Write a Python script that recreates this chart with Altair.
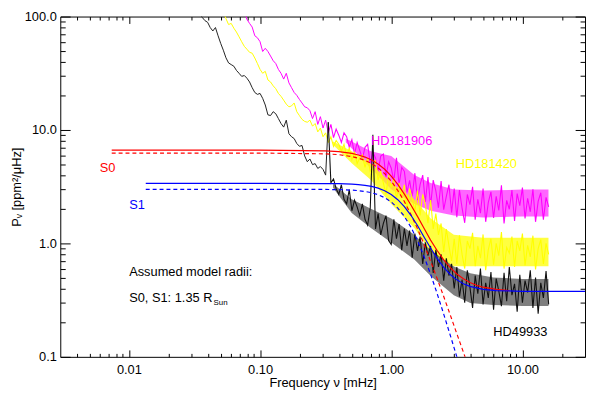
import altair as alt
import pandas as pd

# ---------------- data ----------------
freq = [0.03162, 0.03311, 0.03467, 0.03631, 0.03802, 0.03981, 0.04169, 0.04365, 0.04571, 0.04786,
        0.05012, 0.05248, 0.05495, 0.05754, 0.06026, 0.06310, 0.06607, 0.06918, 0.07244, 0.07586,
        0.07943, 0.08318, 0.08710, 0.09120, 0.09550,
        0.1000, 0.1047, 0.1096, 0.1148, 0.1202, 0.1259, 0.1318, 0.1380, 0.1445, 0.1514,
        0.1585, 0.1660, 0.1738, 0.1820, 0.1905, 0.1995, 0.2089, 0.2188, 0.2291, 0.2399,
        0.2512, 0.2630, 0.2754, 0.2884, 0.3020, 0.3162, 0.3311, 0.3467, 0.3631, 0.3802,
        0.3981, 0.4169, 0.4365, 0.4571, 0.4786, 0.5012, 0.5248, 0.5495, 0.5754, 0.6026,
        0.6310, 0.6607, 0.6918, 0.7244, 0.7586, 0.7943, 0.8318, 0.8710, 0.9120, 0.9550,
        1.000, 1.047, 1.096, 1.148, 1.202, 1.259, 1.318, 1.380, 1.445, 1.514,
        1.585, 1.660, 1.738, 1.820, 1.905, 1.995, 2.089, 2.188, 2.291, 2.399,
        2.512, 2.630, 2.754, 2.884, 3.020, 3.162, 3.311, 3.467, 3.631, 3.802,
        3.981, 4.169, 4.365, 4.571, 4.786, 5.012, 5.248, 5.495, 5.754, 6.026,
        6.310, 6.607, 6.918, 7.244, 7.586, 7.943, 8.318, 8.710, 9.120, 9.550,
        10.00, 10.47, 10.96, 11.48, 12.02, 12.59, 13.18, 13.80, 14.45, 15.14, 15.85]

hd49933 = [134, 117, 106, 98, 92, 89, 80, 74.6, 80, 67.7,
           58, 50.5, 43.3, 39, 37.7, 36.5, 33.5, 31.6, 29.7, 30.2,
           28.6, 26.5, 23.6, 21.4, 20.6, 21.0, 19.0, 16.6, 13.6, 13.4,
           14.5, 13.9, 12.6, 11.4, 10.6, 12.2, 9.26, 8.72, 8.4, 7.6,
           7.18, 7.3, 5.90, 5.25, 5.55, 4.95, 5.05, 4.58, 4.76, 4.49,
           4.00, 11.7, 3.42, 3.70, 3.04, 2.7, 3.29, 2.45, 2.23, 2.98,
           1.94, 2.41, 2.1, 1.76, 2.23, 1.63, 1.45, 2.06, 9.07, 1.34,
           1.83, 1.19, 1.5, 1.76, 1.06, 0.98, 1.63, 1.10, 1.48, 0.87,
           1.35, 0.95, 1.30, 0.75, 1.22, 0.86, 1.15, 0.66, 1.02, 0.78,
           0.95, 0.55, 0.88, 0.62, 0.80, 0.47, 0.74, 0.52, 0.66, 0.40,
           0.62, 0.34, 0.48, 0.30, 0.58, 0.41, 0.27, 0.52, 0.36, 0.60,
           0.29, 0.45, 0.33, 0.56, 0.26, 0.49, 0.38, 0.28, 0.55, 0.31,
           0.62, 0.35, 0.44, 0.25, 0.53, 0.30, 0.47, 0.37, 0.58, 0.27,
           0.50, 0.24, 0.45, 0.33, 0.57, 0.29]

hd181906 = [600, 560, 520, 480, 450, 420, 390, 360, 330, 300,
            280, 260, 240, 220, 200, 180, 160, 140, 125, 110,
            94.5, 87, 80.8, 67.7, 65, 60, 49.2, 52.5, 49.2, 44.9,
            40.8, 38.5, 34.2, 31.6, 28.1, 31.6, 26.0, 23.6, 21.4, 20.2,
            18.6, 17.3, 16.0, 15.7, 14.8, 12.6, 14.5, 11.2, 13.1, 10.4,
            12.2, 9.44, 11.2, 8.55, 10.2, 9.0, 7.76, 9.44, 8.72, 7.04,
            8.23, 6.14, 7.76, 6.6, 5.56, 7.04, 7.47, 5.05, 6.38, 5.67,
            4.32, 5.90, 6.14, 3.84, 5.25, 4.6, 3.55, 5.67, 3.29, 4.68,
            4.32, 2.81, 3.6, 2.60, 4.16, 2.41, 3.3, 4.00, 2.32, 3.84,
            2.14, 3.62, 2.9, 2.06, 3.55, 1.98, 2.6, 3.29, 1.87, 3.04,
            1.70, 2.95, 2.05, 1.52, 2.70, 2.20, 3.15, 1.62, 2.45, 1.85,
            3.05, 1.55, 2.30, 2.85, 1.68, 2.60, 1.95, 3.25, 1.50, 2.40,
            2.00, 2.95, 1.58, 2.75, 2.15, 3.10, 1.66, 2.50, 1.90, 3.00,
            1.55, 2.35, 2.80, 1.62, 2.55, 2.10]

hd181420 = [241, 223, 206, 194, 180, 166, 154, 145, 134, 125,
            117, 110, 96, 85, 87, 79, 73, 66.3, 60, 54.6,
            51.5, 48.4, 47.5, 43.1, 38.5, 34.2, 31.6, 32.9, 27.6, 26.5,
            24.5, 23.1, 21.0, 19.8, 18.3, 16.9, 16.0, 16.3, 17.3, 14.5,
            13.4, 12.4, 11.9, 11.7, 12.2, 10.8, 11.4, 9.62, 10.4, 8.72,
            9.44, 7.76, 8.72, 7.18, 8.07, 7.5, 6.51, 7.47, 5.90, 6.90,
            5.46, 6.38, 5.05, 5.7, 6.02, 4.68, 5.67, 4.32, 4.9, 5.35,
            3.62, 4.32, 3.4, 2.71, 4.00, 3.1, 3.76, 2.45, 3.42, 2.6,
            3.29, 2.02, 3.04, 2.5, 1.90, 2.93, 1.76, 2.71, 2.2, 1.51,
            2.41, 1.34, 1.83, 1.19, 1.5, 0.84, 1.34, 0.95, 0.70, 1.10,
            0.66, 1.18, 0.80, 0.60, 1.05, 0.90, 1.24, 0.63, 0.95, 0.74,
            1.20, 0.58, 0.88, 1.10, 0.65, 1.00, 0.78, 1.26, 0.60, 0.92,
            0.82, 1.15, 0.62, 1.05, 0.86, 1.22, 0.64, 0.96, 0.76, 1.17,
            0.59, 0.90, 1.08, 0.66, 1.00, 0.80]

# dense-noise core of each spectrum (upper and lower edge of the filled-looking band)
blk_band_f = [0.36, 0.5, 0.7, 1.0, 1.5, 2.0, 3.0, 4.0, 6.0, 10.0, 15.8]
blk_band_hi = [3.35, 2.45, 2.02, 1.66, 1.19, 0.87, 0.626, 0.546, 0.50, 0.486, 0.486]
blk_band_lo = [3.1, 1.85, 1.37, 1.02, 0.72, 0.515, 0.349, 0.298, 0.287, 0.281, 0.281]
mag_band_f = [0.45, 0.7, 1.0, 1.5, 2.0, 3.0, 5.0, 10.0, 15.8]
mag_band_hi = [8.4, 6.5, 5.9, 4.0, 3.4, 2.98, 2.93, 2.98, 2.98]
mag_band_lo = [7.8, 4.6, 3.0, 2.23, 1.94, 1.76, 1.69, 1.73, 1.73]
yel_band_f = [0.36, 0.5, 0.7, 1.0, 1.5, 2.0, 3.0, 5.0, 10.0, 15.8]
yel_band_hi = [7.9, 6.5, 5.05, 3.4, 2.45, 1.66, 1.19, 1.12, 1.12, 1.12]
yel_band_lo = [7.4, 5.1, 3.62, 2.23, 1.37, 0.84, 0.63, 0.63, 0.63, 0.63]

# model curves (S0 red, S1 blue); solid = total, dashed = granulation only
s0_solid_f = [0.0074, 0.1, 0.316, 0.398, 0.501, 0.562, 0.631, 0.708, 0.794, 0.891, 1.0, 1.122, 1.259,
              1.413, 1.585, 1.778, 1.995, 2.239, 2.512, 2.818, 3.162, 3.548, 3.981, 4.467, 5.012,
              6.310, 7.943]
s0_solid_p = [6.64, 6.64, 6.54, 6.44, 6.21, 6.02, 5.77, 5.44, 5.01, 4.50, 3.92, 3.31, 2.72,
              2.18, 1.73, 1.36, 1.07, 0.866, 0.717, 0.611, 0.537, 0.487, 0.452, 0.428, 0.411,
              0.393, 0.384]
s0_dash_f = [0.0074, 0.1, 0.316, 0.398, 0.501, 0.562, 0.631, 0.708, 0.794, 0.891, 1.0, 1.122, 1.259,
             1.413, 1.585, 1.778, 1.995, 2.239, 2.512, 2.818, 3.162, 3.548, 3.981]
s0_dash_p = [6.26, 6.26, 6.16, 6.06, 5.83, 5.64, 5.39, 5.06, 4.63, 4.12, 3.54, 2.93, 2.34,
             1.80, 1.35, 0.978, 0.697, 0.489, 0.340, 0.234, 0.160, 0.110, 0.0745]
s1_solid_f = [0.01345, 0.1, 0.316, 0.398, 0.501, 0.562, 0.631, 0.708, 0.794, 0.891, 1.0, 1.122, 1.259,
              1.413, 1.585, 1.778, 1.995, 2.239, 2.512, 2.818, 3.162, 3.548, 3.981, 5.012, 6.310,
              10.0, 30.0]
s1_solid_p = [3.377, 3.377, 3.37, 3.36, 3.33, 3.30, 3.25, 3.18, 3.07, 2.91, 2.70, 2.43, 2.11,
              1.77, 1.44, 1.14, 0.912, 0.738, 0.615, 0.532, 0.477, 0.441, 0.418, 0.393, 0.384,
              0.378, 0.377]
s1_dash_f = [0.01345, 0.1, 0.316, 0.398, 0.501, 0.562, 0.631, 0.708, 0.794, 0.891, 1.0, 1.122, 1.259,
             1.413, 1.585, 1.778, 1.995, 2.239, 2.512, 2.818, 3.162, 3.548]
s1_dash_p = [3.0, 3.0, 2.99, 2.98, 2.95, 2.92, 2.87, 2.80, 2.69, 2.53, 2.32, 2.05, 1.73,
             1.39, 1.06, 0.767, 0.535, 0.361, 0.238, 0.155, 0.100, 0.0637]

x_major = [0.01, 0.1, 1, 10]
x_minor = [0.004, 0.005, 0.006, 0.007, 0.008, 0.009,
           0.02, 0.03, 0.04, 0.05, 0.06, 0.07, 0.08, 0.09,
           0.2, 0.3, 0.4, 0.5, 0.6, 0.7, 0.8, 0.9,
           2, 3, 4, 5, 6, 7, 8, 9, 20]
y_major = [0.1, 1, 10, 100]
y_minor = [0.2, 0.3, 0.4, 0.5, 0.6, 0.7, 0.8, 0.9,
           2, 3, 4, 5, 6, 7, 8, 9,
           20, 30, 40, 50, 60, 70, 80, 90]

labels_text = ["S0", "S1", "HD181906", "HD181420", "HD49933",
               "Assumed model radii:", "S0, S1: 1.35 R"]
labels_f = [0.0060, 0.01005, 0.701, 3.1, 6.0, 0.01005, 0.01005]
labels_p = [4.58, 2.18, 7.91, 5.05, 0.166, 0.557, 0.329]
labels_col = ["#ff0000", "#0000ff", "#ff00ff", "#ffff00", "#000000", "#000000", "#000000"]
sub_text = ["Sun"]
sub_f = [0.0442]
sub_p = [0.296]

# ---------------- chart ----------------
W, H = 532, 345
FONT = "Liberation Sans"
SPLIT = 0.3311
xs = alt.Scale(type="log", domain=[0.003, 30], nice=False)
ys = alt.Scale(type="log", domain=[0.1, 100], nice=False)

x_ticks = x_major + x_minor
y_ticks = y_major + y_minor
x_tsize = {"condition": {"test": "indexof([0.01,0.1,1,10], datum.value) >= 0", "value": 7}, "value": 3.5}
y_tsize = {"condition": {"test": "indexof([0.1,1,10,100], datum.value) >= 0", "value": 10}, "value": 5}

spec = pd.DataFrame({"f": freq, "b": hd49933, "y": hd181420, "m": hd181906})

axA_x = alt.Axis(orient="bottom", values=x_major, format=".2f", ticks=False, domain=False, grid=False,
                 labelPadding=7, labelFlush=False, labelFont=FONT, labelFontSize=13, labelColor="black",
                 title="Frequency ν [mHz]", titleFont=FONT, titleFontSize=13, titleFontWeight="normal",
                 titleColor="black", titlePadding=0)
axA_y = alt.Axis(orient="left", values=y_major, format=".1f", ticks=False, domain=False, grid=False,
                 labelPadding=4, labelFlush=False, labelFont=FONT, labelFontSize=13, labelColor="black",
                 title="Pᵥ [ppm²/μHz]", titleFont=FONT, titleFontSize=13, titleFontWeight="normal",
                 titleColor="black", titlePadding=1)
axB_x = alt.Axis(orient="top", offset=-H, values=x_ticks, labels=False, domain=False, grid=False,
                 tickColor="black", tickSize=x_tsize, title=None)
axB_y = alt.Axis(orient="right", offset=-W, values=y_ticks, labels=False, domain=False, grid=False,
                 tickColor="black", tickSize=y_tsize, title=None)
axC_x = alt.Axis(orient="bottom", offset=-H, values=x_ticks, labels=False, domain=False, grid=False,
                 tickColor="black", tickSize=x_tsize, title=None)
axC_y = alt.Axis(orient="left", offset=-W, values=y_ticks, labels=False, domain=False, grid=False,
                 tickColor="black", tickSize=y_tsize, title=None)


def spectrum(field, color, xaxis, yaxis, low):
    test = f"datum.f <= {SPLIT}" if low else f"datum.f >= {SPLIT}"
    return alt.Chart(spec).transform_filter(test).mark_line(
        color=color, strokeWidth=1 if low else 1.1, clip=True
    ).encode(
        x=alt.X("f:Q", scale=xs, axis=xaxis), y=alt.Y(f"{field}:Q", scale=ys, axis=yaxis))


def band(fs, lo, hi, color, opacity):
    df = pd.DataFrame({"f": fs, "lo": lo, "hi": hi})
    return alt.Chart(df).mark_area(color=color, opacity=opacity, clip=True).encode(
        x=alt.X("f:Q", scale=xs, axis=None), y=alt.Y("lo:Q", scale=ys, axis=None), y2="hi:Q")


mag_band = band(mag_band_f, mag_band_lo, mag_band_hi, "#ff00ff", 0.6)
yel_band = band(yel_band_f, yel_band_lo, yel_band_hi, "#ffff00", 0.75)
blk_band = band(blk_band_f, blk_band_lo, blk_band_hi, "#000000", 0.5)
mag_lo = spectrum("m", "#ff00ff", axA_x, axA_y, True)
mag_hi = spectrum("m", "#ff00ff", None, None, False)
yel_lo = spectrum("y", "#ffff00", axB_x, axB_y, True)
yel_hi = spectrum("y", "#ffff00", None, None, False)
blk_lo = spectrum("b", "#222222", axC_x, axC_y, True)
blk_hi = spectrum("b", "#111111", None, None, False)


def model(fs, ps, color, dash):
    df = pd.DataFrame({"f": fs, "p": ps})
    kw = {"strokeDash": [4, 3]} if dash else {}
    return alt.Chart(df).mark_line(color=color, strokeWidth=1.2, clip=True, **kw).encode(
        x=alt.X("f:Q", scale=xs, axis=None), y=alt.Y("p:Q", scale=ys, axis=None))


m1 = model(s0_dash_f, s0_dash_p, "#ff0000", True)
m2 = model(s1_dash_f, s1_dash_p, "#0000ff", True)
m3 = model(s0_solid_f, s0_solid_p, "#ff0000", False)
m4 = model(s1_solid_f, s1_solid_p, "#0000ff", False)

lab_df = pd.DataFrame({"f": labels_f, "p": labels_p, "t": labels_text, "c": labels_col})
labs = alt.Chart(lab_df).mark_text(align="left", baseline="middle", font=FONT, fontSize=13).encode(
    x=alt.X("f:Q", scale=xs, axis=None), y=alt.Y("p:Q", scale=ys, axis=None),
    text="t:N", color=alt.Color("c:N", scale=None))
sub_df = pd.DataFrame({"f": sub_f, "p": sub_p, "t": sub_text})
sub = alt.Chart(sub_df).mark_text(align="left", baseline="middle", font=FONT, fontSize=8,
                                  color="black").encode(
    x=alt.X("f:Q", scale=xs, axis=None), y=alt.Y("p:Q", scale=ys, axis=None), text="t:N")

chart = alt.layer(mag_lo, mag_band, mag_hi, yel_lo, yel_band, yel_hi, blk_lo, blk_band, blk_hi,
                  m1, m2, m3, m4, labs, sub).resolve_axis(
    x="independent", y="independent"
).properties(
    width=W, height=H,
    padding={"left": 53, "top": 6, "right": 1, "bottom": 34},
    autosize=alt.AutoSizeParams(type="none"),
    background="white",
).configure_view(stroke="black", strokeWidth=1)

chart.save("out.html", embed_options={"renderer": "svg", "actions": False})
